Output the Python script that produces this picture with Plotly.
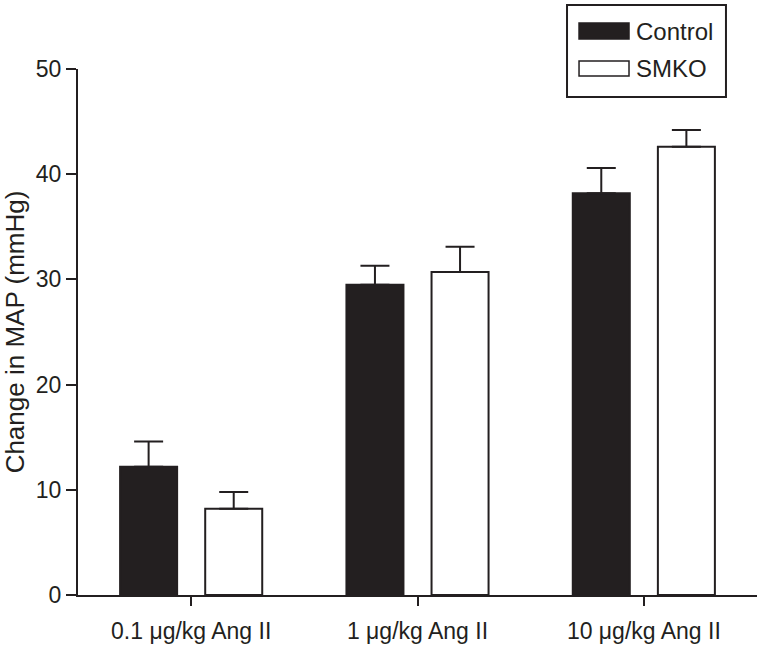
import plotly.graph_objects as go

categories = ["0.1 \u03bcg/kg Ang II", "1 \u03bcg/kg Ang II", "10 \u03bcg/kg Ang II"]
series_names = ["Control", "SMKO"]
control_values = [12.2, 29.5, 38.2]
control_errors = [2.4, 1.8, 2.4]
smko_values = [8.2, 30.7, 42.6]
smko_errors = [1.6, 2.4, 1.6]
y_ticks = [0, 10, 20, 30, 40, 50]
y_title = "Change in MAP (mmHg)"

INK = "#231f20"
FONT = "Liberation Sans, Arial, Helvetica, sans-serif"

fig = go.Figure()
fig.add_trace(go.Bar(
    x=categories, y=control_values, name=series_names[0],
    marker=dict(color=INK, line=dict(color=INK, width=2)),
    error_y=dict(type="data", symmetric=False, array=control_errors,
                 arrayminus=[0] * len(control_errors),
                 color=INK, thickness=2, width=14.5),
    showlegend=False,
))
fig.add_trace(go.Bar(
    x=categories, y=smko_values, name=series_names[1],
    marker=dict(color="white", line=dict(color=INK, width=2)),
    error_y=dict(type="data", symmetric=False, array=smko_errors,
                 arrayminus=[0] * len(smko_errors),
                 color=INK, thickness=2, width=14.5),
    showlegend=False,
))

# legend drawn as box + swatches + labels (paper coordinates)
shapes = [
    dict(type="rect", xref="paper", yref="paper", x0=0.7202, x1=0.9543,
         y0=0.9468, y1=1.1217, line=dict(color=INK, width=2), fillcolor="white"),
    dict(type="rect", xref="paper", yref="paper", x0=0.7379, x1=0.8115,
         y0=1.0570, y1=1.0875, line=dict(color=INK, width=1.5), fillcolor=INK),
    dict(type="rect", xref="paper", yref="paper", x0=0.7379, x1=0.8115,
         y0=0.9867, y1=1.0152, line=dict(color=INK, width=1.5), fillcolor="white"),
]
annotations = [
    dict(xref="paper", yref="paper", x=0.8190, y=1.0722, text=series_names[0],
         showarrow=False, xanchor="left", yanchor="middle",
         font=dict(family=FONT, size=24, color=INK)),
    dict(xref="paper", yref="paper", x=0.8190, y=1.0010, text=series_names[1],
         showarrow=False, xanchor="left", yanchor="middle",
         font=dict(family=FONT, size=24, color=INK)),
]

fig.update_layout(
    width=762, height=653,
    margin=dict(l=78, r=5, t=69, b=58),
    paper_bgcolor="white", plot_bgcolor="white",
    barmode="group", bargap=0.248, bargroupgap=0.33,
    font=dict(family=FONT, size=23, color=INK),
    shapes=shapes, annotations=annotations,
    xaxis=dict(
        type="category", range=[-0.5, 2.5],
        showline=True, linecolor=INK, linewidth=2,
        ticks="outside", ticklen=9, tickwidth=2, tickcolor=INK,
        showgrid=False, zeroline=False,
        ticklabelstandoff=5,
        tickfont=dict(family=FONT, size=23, color=INK),
    ),
    yaxis=dict(
        range=[0, 50], tickvals=y_ticks,
        showline=True, linecolor=INK, linewidth=2,
        ticks="outside", ticklen=10, tickwidth=2, tickcolor=INK,
        showgrid=False, zeroline=False,
        tickfont=dict(family=FONT, size=23, color=INK),
        title=dict(text=y_title, font=dict(family=FONT, size=26, color=INK), standoff=6),
    ),
)

fig.write_html("out.html", config={"displayModeBar": False},
               post_script="document.body.style.margin='0';")
